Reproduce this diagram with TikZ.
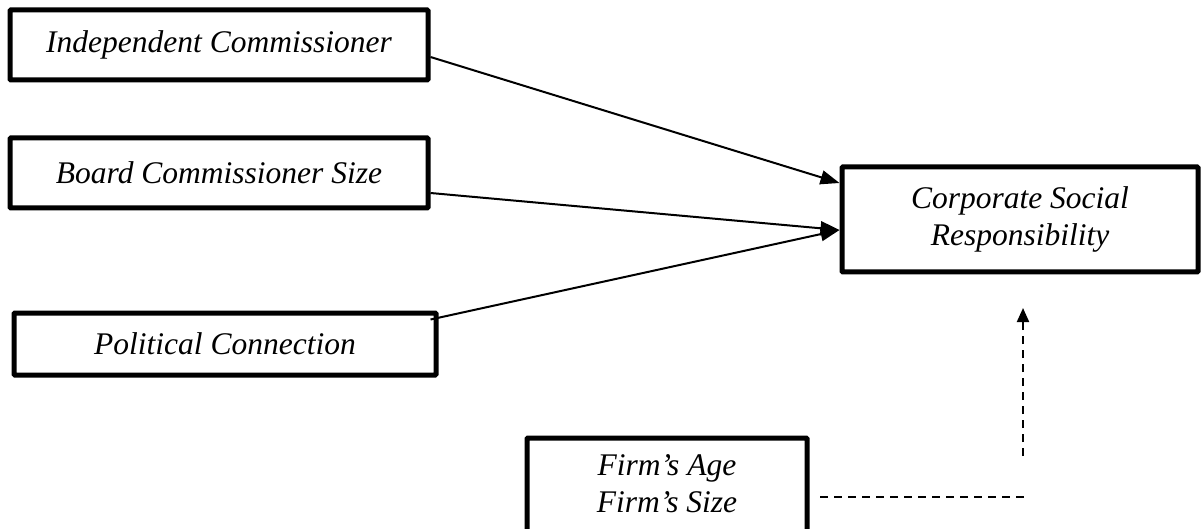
\documentclass[tikz,border=0pt]{standalone}
\usepackage{fontspec}
\setmainfont{Liberation Serif}
\usetikzlibrary{arrows.meta,calc}
\tikzset{
  varbox/.style={draw=black, line width=5pt, rounded corners=1pt, fill=white, inner sep=0pt,
    align=center, font=\fontsize{31.5}{37}\selectfont\itshape},
  solidarrow/.style={line width=2pt, -{Triangle[length=19pt,width=14pt]}},
  dasharrow/.style={line width=2pt, dash pattern=on 8pt off 6pt},
}
\begin{document}
\begin{tikzpicture}[x=1pt,y=-1pt]
\useasboundingbox (0,0) rectangle (1204,529);
\clip (0,0) rectangle (1204,529);
\node[varbox, minimum width=418pt, minimum height=70pt] (ic) at (219,45) {Independent Commissioner};
\node[varbox, minimum width=418pt, minimum height=70pt] (bc) at (219,173) {Board Commissioner Size};
\node[varbox, minimum width=422pt, minimum height=62pt] (pc) at (225,344) {Political Connection};
\node[varbox, minimum width=356pt, minimum height=105pt] (csr) at (1020,219.5) {Corporate Social\\Responsibility};
\node[varbox, minimum width=280pt, minimum height=110pt] (firm) at (667,493) {};
\node[font=\fontsize{31.5}{37}\selectfont\itshape, align=center] (firmtxt) at (667,484) {Firm’s Age\\Firm’s Size};
\draw[solidarrow] ([yshift=-12pt]ic.east) -- ([yshift=36.5pt]csr.west);
\draw[solidarrow] ([yshift=-20pt]bc.east) -- ([yshift=-10.5pt]csr.west);
\draw[solidarrow] ([xshift=-8pt,yshift=-9pt]pc.north east) -- ([yshift=-10.5pt]csr.west);
\coordinate (h1) at (820,497);
\coordinate (h2) at (1026,497);
\coordinate (v1) at (1023,456);
\coordinate (v2) at (1023,308);
\draw[dasharrow] (h1) -- (h2);
\draw[dasharrow, -{Triangle[length=14pt,width=12pt]}] (v1) -- (v2);
\end{tikzpicture}
\end{document}
